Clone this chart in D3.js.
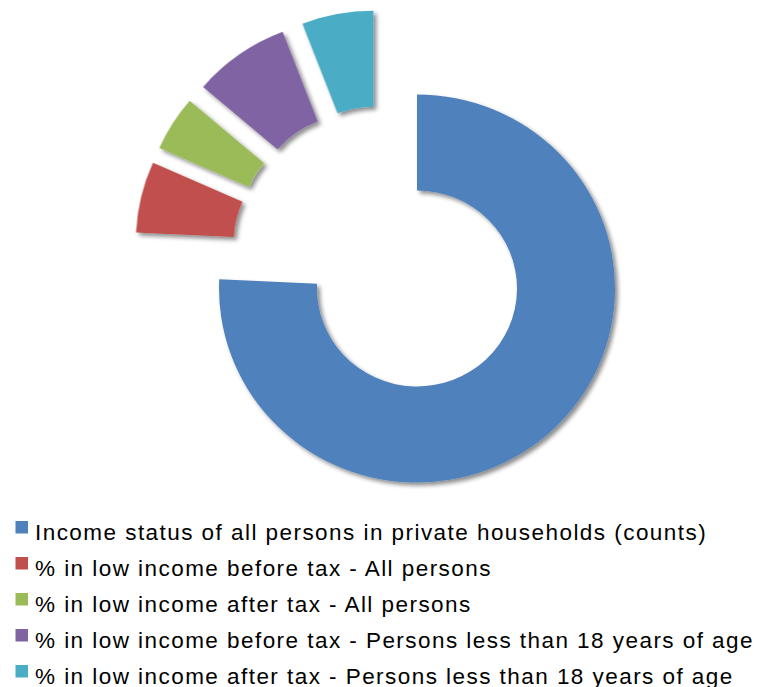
<!DOCTYPE html>
<html>
<head>
<meta charset="utf-8">
<script src="https://cdn.jsdelivr.net/npm/d3@7"></script>
<style>
  html, body { margin: 0; padding: 0; background: #fff; }
  svg { display: block; }
</style>
</head>
<body>
<svg id="chart" width="759" height="687"></svg>
<script>
// Series shown in the exploded donut
const categories = [
  "Income status of all persons in private households (counts)",
  "% in low income before tax - All persons",
  "% in low income after tax - All persons",
  "% in low income before tax - Persons less than 18 years of age",
  "% in low income after tax - Persons less than 18 years of age"
];
const values = [200, 15.6, 12.1, 20.9, 15.4];
const colors = ["#4F81BD", "#C0504D", "#9BBB59", "#8064A2", "#4BACC6"];

const width = 759, height = 687;
const cx = 382.5, cy = 253;
const outerR = 198, innerR = 100;
const explode = 50;

const svg = d3.select("#chart");

// soft drop shadow under each ring segment
const defs = svg.append("defs");
const f = defs.append("filter").attr("id", "shadow")
  .attr("x", "-20%").attr("y", "-20%").attr("width", "140%").attr("height", "140%");
f.append("feDropShadow")
  .attr("dx", 3).attr("dy", 3).attr("stdDeviation", 2)
  .attr("flood-color", "#000").attr("flood-opacity", 0.45);

const pie = d3.pie().sort(null).value(d => d.value);
const arc = d3.arc().innerRadius(innerR).outerRadius(outerR);

const data = categories.map((c, i) => ({ name: c, value: values[i], color: colors[i] }));
const arcs = pie(data);

const shadowLayer = svg.append("g").attr("filter", "url(#shadow)");
const ring = shadowLayer.append("g")
  .attr("transform", `translate(${cx},${cy}) scale(1,0.98)`);

ring.selectAll("path")
  .data(arcs)
  .join("path")
  .attr("d", arc)
  .attr("fill", d => d.data.color)
  .attr("transform", d => {
    const mid = (d.startAngle + d.endAngle) / 2;
    return `translate(${explode * Math.sin(mid)},${-explode * Math.cos(mid)})`;
  });

// Legend
const legend = svg.append("g")
  .attr("font-family", "'Liberation Sans', Arial, sans-serif")
  .attr("font-size", 22.5)
  .attr("letter-spacing", 1.45)
  .attr("fill", "#000");

const rowY = d3.scalePoint().domain(categories).range([539.5, 683.5]);

const rows = legend.selectAll("g")
  .data(data)
  .join("g")
  .attr("transform", d => `translate(0,${rowY(d.name)})`);

rows.append("rect")
  .attr("x", 15.5).attr("y", -18.5)
  .attr("width", 12.5).attr("height", 12.5)
  .attr("fill", d => d.color);

rows.append("text")
  .attr("x", 35).attr("y", 0)
  .text(d => d.name);
</script>
</body>
</html>
